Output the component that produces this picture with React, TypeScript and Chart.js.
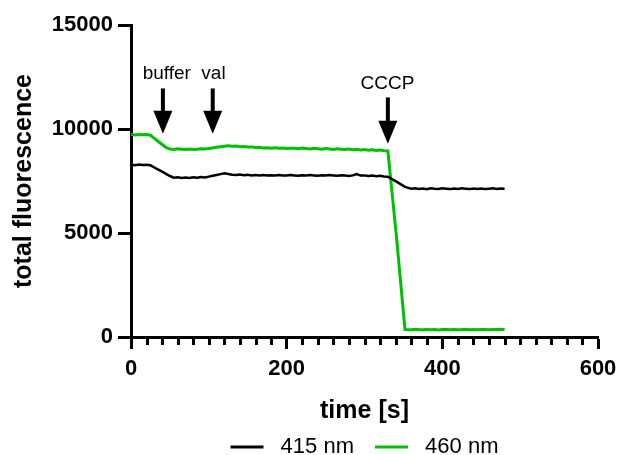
import { useEffect, useRef } from 'react';
import { Chart, registerables } from 'chart.js';

Chart.register(...registerables);

// ---- data ----
const times = [
  0, 5, 10, 15, 20, 25, 30, 35, 40, 45,
  50, 55, 60, 65, 70, 75, 80, 85, 90, 95,
  100, 105, 110, 115, 120, 125, 130, 135, 140, 145,
  150, 155, 160, 165, 170, 175, 180, 185, 190, 195,
  200, 205, 210, 215, 220, 225, 230, 235, 240, 245,
  250, 255, 260, 265, 270, 275, 280, 285, 290, 295,
  300, 305, 310, 315, 320, 325, 330,
  341, 352,
  360, 365, 370, 375, 380, 385, 390, 395, 400, 405,
  410, 415, 420, 425, 430, 435, 440, 445, 450, 455,
  460, 465, 470, 475, 480,
];

const fluor415 = [
  8280, 8260, 8290, 8270, 8285, 8255, 8150, 8050, 7950, 7845,
  7740, 7660, 7680, 7650, 7670, 7640, 7680, 7660, 7690, 7670,
  7710, 7750, 7790, 7830, 7870, 7840, 7800, 7790, 7810, 7780,
  7800, 7770, 7790, 7760, 7790, 7770, 7780, 7760, 7790, 7770,
  7760, 7790, 7770, 7750, 7780, 7760, 7790, 7770, 7750, 7780,
  7760, 7790, 7770, 7750, 7780, 7760, 7740, 7770, 7830, 7760,
  7770, 7740, 7760, 7730, 7750, 7720, 7710,
  7470, 7220,
  7130, 7150, 7120, 7140, 7110, 7150, 7130, 7120, 7150, 7130,
  7110, 7140, 7120, 7150, 7130, 7110, 7140, 7120, 7140, 7110,
  7130, 7150, 7120, 7140, 7130,
];

const fluor460 = [
  9730, 9710, 9740, 9720, 9735, 9700, 9550, 9400, 9255, 9110,
  9040, 9020, 9050, 9030, 9010, 9040, 9020, 9030, 9050, 9040,
  9060, 9090, 9120, 9150, 9170, 9190, 9170, 9180, 9150, 9160,
  9130, 9140, 9110, 9120, 9090, 9100, 9080, 9100, 9070, 9090,
  9060, 9080, 9070, 9050, 9080, 9060, 9040, 9070, 9050, 9030,
  9060, 9040, 9020, 9050, 9030, 9010, 9040, 9000, 9020, 8990,
  9010, 8980, 9000, 8970, 8990, 8960, 8950,
  4850, 360,
  350, 370, 355, 345, 365, 350, 360, 340, 355, 365,
  350, 360, 345, 355, 370, 350, 360, 345, 355, 365,
  350, 360, 355, 370, 360,
];

const seriesLabels = ['415 nm', '460 nm'];
const xTickValues = [0, 200, 400, 600];
const yTickValues = [0, 5000, 10000, 15000];

const treatmentLabels = ['buffer', 'val', 'CCCP'];
const treatmentTimes = [41, 105, 330];

// ---- annotation layout (styling, in axis units) ----
const ARROW_TOP = [11950, 11950, 11520];
const ARROW_TIP = [9770, 9770, 9290];
const LABEL_X = [46, 106, 329.5];
const LABEL_BASELINE = [12420, 12420, 11940];

const FONT = '"Liberation Sans", Arial, Helvetica, sans-serif';
const GREEN = 'rgb(0, 192, 0)';

const arrowPlugin = {
  id: 'treatmentArrows',
  afterDatasetsDraw(chart: any) {
    const { ctx, scales } = chart;
    const x = scales.x;
    const y = scales.y;
    ctx.save();
    // minor x ticks
    ctx.strokeStyle = '#000';
    ctx.lineWidth = 3;
    const bottom = chart.chartArea.bottom;
    x.ticks.forEach((t: any) => {
      if (xTickValues.includes(t.value)) return;
      const px = Math.round(x.getPixelForValue(t.value)) + 0.5;
      ctx.beginPath();
      ctx.moveTo(px, bottom);
      ctx.lineTo(px, bottom + 8);
      ctx.stroke();
    });
    // arrows + labels
    ctx.fillStyle = '#000';
    treatmentLabels.forEach((label, i) => {
      const px = x.getPixelForValue(treatmentTimes[i]);
      const top = y.getPixelForValue(ARROW_TOP[i]);
      const tip = y.getPixelForValue(ARROW_TIP[i]);
      const headH = 23;
      const headW = 19;
      const shaftW = 4;
      ctx.fillRect(px - shaftW / 2, top, shaftW, tip - headH - top + 1);
      ctx.beginPath();
      ctx.moveTo(px - headW / 2, tip - headH);
      ctx.lineTo(px + headW / 2, tip - headH);
      ctx.lineTo(px, tip);
      ctx.closePath();
      ctx.fill();
      ctx.font = `19px ${FONT}`;
      ctx.textAlign = 'center';
      ctx.textBaseline = 'alphabetic';
      ctx.fillText(label, x.getPixelForValue(LABEL_X[i]), y.getPixelForValue(LABEL_BASELINE[i]));
    });
    ctx.restore();
  },
};

export default function App() {
  const ref = useRef<HTMLCanvasElement>(null);

  useEffect(() => {
    document.body.style.margin = '0';
    const canvas = ref.current;
    if (!canvas) return;
    Chart.defaults.font.family = FONT;
    Chart.defaults.color = '#000';

    const chart = new Chart(canvas, {
      type: 'line',
      data: {
        datasets: [
          {
            label: seriesLabels[0],
            data: times.map((t, i) => ({ x: t, y: fluor415[i] })),
            borderColor: '#000',
            backgroundColor: '#000',
            borderWidth: 2.5,
            pointRadius: 0,
            tension: 0,
            fill: false,
          },
          {
            label: seriesLabels[1],
            data: times.map((t, i) => ({ x: t, y: fluor460[i] })),
            borderColor: GREEN,
            backgroundColor: GREEN,
            borderWidth: 3,
            pointRadius: 0,
            tension: 0,
            fill: false,
          },
        ],
      },
      options: {
        responsive: false,
        animation: false,
        layout: { padding: { top: 25, right: 21, left: 0, bottom: 0 } },
        scales: {
          x: {
            type: 'linear',
            min: 0,
            max: 600,
            ticks: {
              stepSize: 20,
              autoSkip: false,
              maxRotation: 0,
              padding: 9,
              color: '#000',
              font: { size: 22, weight: 'bold', lineHeight: 1 },
              callback: (v: any) => (xTickValues.includes(Number(v)) ? String(v) : ''),
            },
            grid: {
              drawOnChartArea: false,
              drawTicks: true,
              tickLength: 12,
              tickWidth: 3,
              tickColor: (c: any) =>
                c.tick && xTickValues.includes(c.tick.value) ? '#000' : 'rgba(0,0,0,0)',
            },
            border: { display: true, color: '#000', width: 3 },
            title: {
              display: true,
              text: 'time [s]',
              color: '#000',
              font: { size: 25, weight: 'bold', lineHeight: 1 },
              padding: { top: 0, bottom: -8.5 },
            },
            afterFit: (s: any) => {
              s.height = 78;
              s.paddingLeft = 0;
              s.paddingRight = 0;
            },
          },
          y: {
            type: 'linear',
            min: 0,
            max: 15000,
            afterBuildTicks: (s: any) => {
              s.ticks = yTickValues.map((v) => ({ value: v }));
            },
            ticks: {
              padding: 5,
              color: '#000',
              font: { size: 22, weight: 'bold' },
              callback: (v: any) => String(v),
            },
            grid: {
              drawOnChartArea: false,
              drawTicks: true,
              tickLength: 13,
              tickWidth: 3,
              tickColor: '#000',
            },
            border: { display: true, color: '#000', width: 3 },
            title: {
              display: true,
              text: 'total fluorescence',
              color: '#000',
              font: { size: 25, weight: 'bold', lineHeight: 1 },
              padding: { top: 12, bottom: 0 },
            },
            afterFit: (s: any) => {
              s.width = 131;
            },
          },
        },
        plugins: {
          legend: {
            position: 'bottom',
            fullSize: false,
            maxHeight: 40,
            labels: {
              boxWidth: 33,
              boxHeight: 3,
              padding: 21,
              color: '#000',
              font: { size: 22 },
              generateLabels: (ch: any) =>
                Chart.defaults.plugins.legend.labels
                  .generateLabels(ch)
                  .map((l: any) => ({ ...l, text: ' ' + l.text, lineWidth: 0, fillStyle: l.strokeStyle })),
            },
          },
          tooltip: { enabled: false },
        },
      },
      plugins: [arrowPlugin],
    } as any);

    return () => chart.destroy();
  }, []);

  return (
    <div style={{ width: 619, height: 455 }}>
      <canvas ref={ref} width={619} height={455} style={{ display: 'block' }} />
    </div>
  );
}
